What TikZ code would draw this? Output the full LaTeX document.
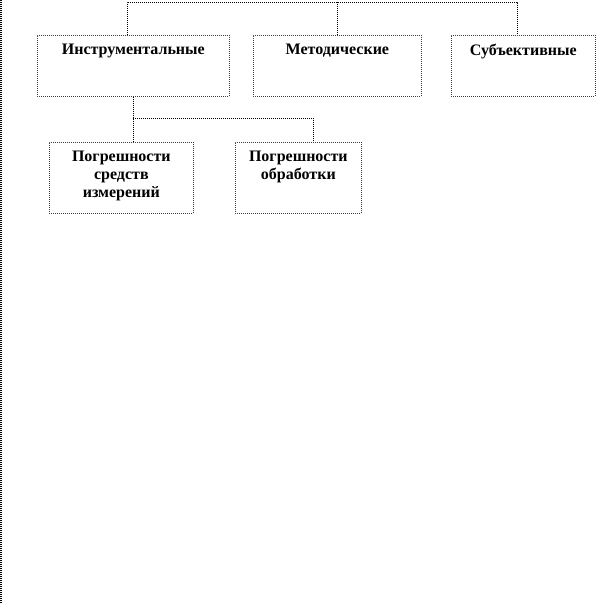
\documentclass[tikz,border=0pt]{standalone}
\usepackage{fontspec}
\setmainfont{Liberation Serif}
\begin{document}
\begin{tikzpicture}[x=1pt,y=1pt,
  errbox/.style={draw=black!75,line width=0.7pt,dash pattern=on 1pt off 1pt,inner sep=0pt,anchor=north west,
    font=\fontsize{16}{18}\selectfont\bfseries},
  conn/.style={black,line width=0.7pt,dash pattern=on 1pt off 1pt}]
\useasboundingbox (0,0) rectangle (598,-604);
% left edge
\draw[black,line width=1.6pt,dash pattern=on 1pt off 1pt] (1,0) -- (1,-604);
% boxes
\foreach \nm/\x/\y/\w/\h/\txt in {instr/37/-35/192/61/{Инструментальные},
    metod/253/-35/168/61/{Методические},subj/451/-35/144/61/{Субъективные},
    sred/49/-142/144/71/{Погрешности\\средств\\измерений},obr/235/-142/126/71/{Погрешности\\обработки}} {
  \node[errbox] (\nm) at (\x,\y) {\parbox[c][\h pt][t]{\w pt}{\centering\vspace*{9pt}\txt}};
}
% connectors
\coordinate (top) at (0,-2);
\coordinate (mid) at (0,-118);
\draw[conn] ([xshift=-6pt]instr.north) |- ([xshift=-6pt]subj.north |- top) -- ([xshift=-6pt]subj.north);
\draw[conn] (metod.north) -- (metod.north |- top);
\draw[conn] (instr.south) -- (instr.south |- sred.north);
\draw[conn] (instr.south |- mid) -| ([xshift=15pt]obr.north);
\end{tikzpicture}
\end{document}
